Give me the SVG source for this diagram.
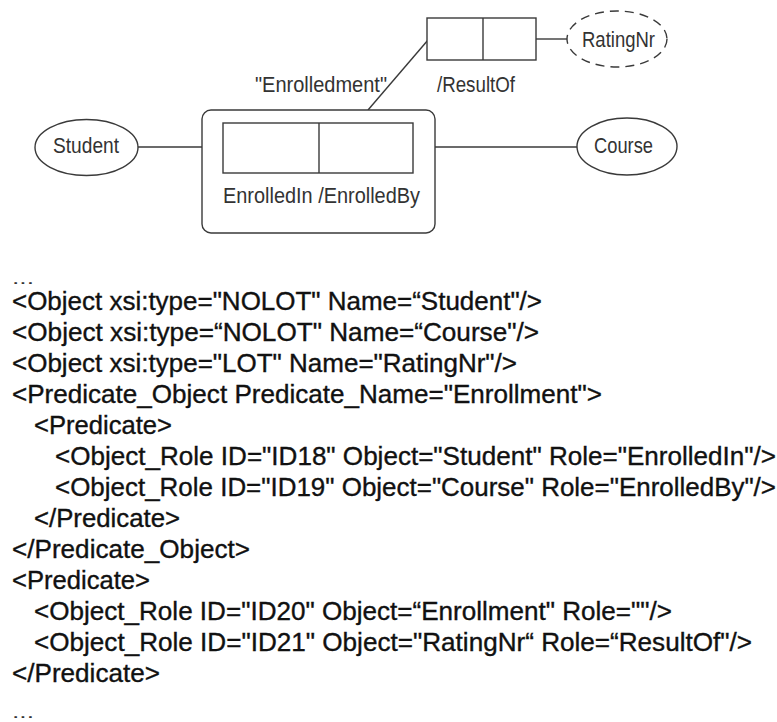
<svg xmlns="http://www.w3.org/2000/svg" width="777" height="722" viewBox="0 0 777 722">
<style>
.ln{stroke:#3a3a3a;stroke-width:1.4;fill:none}
.sh{stroke:#3a3a3a;stroke-width:1.4;fill:#fff}
.dash{stroke-dasharray:9 6}
.lbl{font-family:"Liberation Sans",Arial,sans-serif;font-size:22px;fill:#333}
.xml{font-family:"Liberation Sans",Arial,sans-serif;font-size:25px;fill:#111;stroke:#111;stroke-width:0.35}
.dots{font-family:"Liberation Sans",Arial,sans-serif;font-size:16px;fill:#333}
</style>
<rect width="777" height="722" fill="#fff"/>
<g id="connectors">
<line class="ln" x1="138" y1="147" x2="223" y2="147"/>
<line class="ln" x1="413" y1="147" x2="577" y2="147"/>
<line class="ln" x1="536" y1="39" x2="567" y2="39"/>
<line class="ln" x1="428" y1="40" x2="368" y2="110"/>
</g>
<g id="enrollment-objectified">
<rect class="sh" x="202" y="110" width="233" height="123" rx="9"/>
<text class="lbl" x="255" y="92" textLength="132" lengthAdjust="spacingAndGlyphs">"Enrolledment"</text>
</g>
<g id="enrollment-predicate">
<rect class="sh" x="223" y="123" width="190" height="50"/>
<line class="ln" x1="319" y1="123" x2="319" y2="173"/>
<text class="lbl" x="223" y="203" textLength="197" lengthAdjust="spacingAndGlyphs">EnrolledIn /EnrolledBy</text>
</g>
<g id="resultof-predicate">
<rect class="sh" x="427" y="18" width="109" height="42"/>
<line class="ln" x1="483" y1="18" x2="483" y2="60"/>
<text class="lbl" x="437" y="92" textLength="78" lengthAdjust="spacingAndGlyphs">/ResultOf</text>
</g>
<g id="student">
<ellipse class="sh" cx="86.5" cy="147.5" rx="51.5" ry="28"/>
<text class="lbl" x="53" y="153" textLength="66" lengthAdjust="spacingAndGlyphs">Student</text>
</g>
<g id="course">
<ellipse class="sh" cx="627" cy="146.5" rx="50" ry="28.5"/>
<text class="lbl" x="594" y="153" textLength="59" lengthAdjust="spacingAndGlyphs">Course</text>
</g>
<g id="ratingnr">
<ellipse class="sh dash" cx="617" cy="39" rx="50" ry="28"/>
<text class="lbl" x="582" y="47" textLength="73" lengthAdjust="spacingAndGlyphs">RatingNr</text>
</g>
<g id="xml-listing">
<text class="dots" x="12" y="284" textLength="22" lengthAdjust="spacingAndGlyphs">...</text>
<text class="xml" x="12" y="310" textLength="530" lengthAdjust="spacingAndGlyphs">&lt;Object xsi:type="NOLOT" Name=“Student"/&gt;</text>
<text class="xml" x="12" y="341" textLength="527" lengthAdjust="spacingAndGlyphs">&lt;Object xsi:type=“NOLOT" Name=“Course"/&gt;</text>
<text class="xml" x="12" y="372" textLength="505" lengthAdjust="spacingAndGlyphs">&lt;Object xsi:type="LOT" Name="RatingNr"/&gt;</text>
<text class="xml" x="12" y="403" textLength="590" lengthAdjust="spacingAndGlyphs">&lt;Predicate_Object Predicate_Name="Enrollment"&gt;</text>
<text class="xml" x="34" y="434" textLength="138" lengthAdjust="spacingAndGlyphs">&lt;Predicate&gt;</text>
<text class="xml" x="55" y="465" textLength="721" lengthAdjust="spacingAndGlyphs">&lt;Object_Role ID="ID18" Object="Student" Role="EnrolledIn"/&gt;</text>
<text class="xml" x="55" y="496" textLength="721" lengthAdjust="spacingAndGlyphs">&lt;Object_Role ID="ID19" Object="Course" Role="EnrolledBy"/&gt;</text>
<text class="xml" x="34" y="527" textLength="146" lengthAdjust="spacingAndGlyphs">&lt;/Predicate&gt;</text>
<text class="xml" x="12" y="558" textLength="238" lengthAdjust="spacingAndGlyphs">&lt;/Predicate_Object&gt;</text>
<text class="xml" x="12" y="589" textLength="138" lengthAdjust="spacingAndGlyphs">&lt;Predicate&gt;</text>
<text class="xml" x="34" y="620" textLength="638" lengthAdjust="spacingAndGlyphs">&lt;Object_Role ID="ID20" Object=“Enrollment" Role=""/&gt;</text>
<text class="xml" x="34" y="651" textLength="718" lengthAdjust="spacingAndGlyphs">&lt;Object_Role ID="ID21" Object="RatingNr“ Role=“ResultOf"/&gt;</text>
<text class="xml" x="12" y="682" textLength="148" lengthAdjust="spacingAndGlyphs">&lt;/Predicate&gt;</text>
<text class="dots" x="12" y="718" textLength="22" lengthAdjust="spacingAndGlyphs">...</text>
</g>
</svg>
